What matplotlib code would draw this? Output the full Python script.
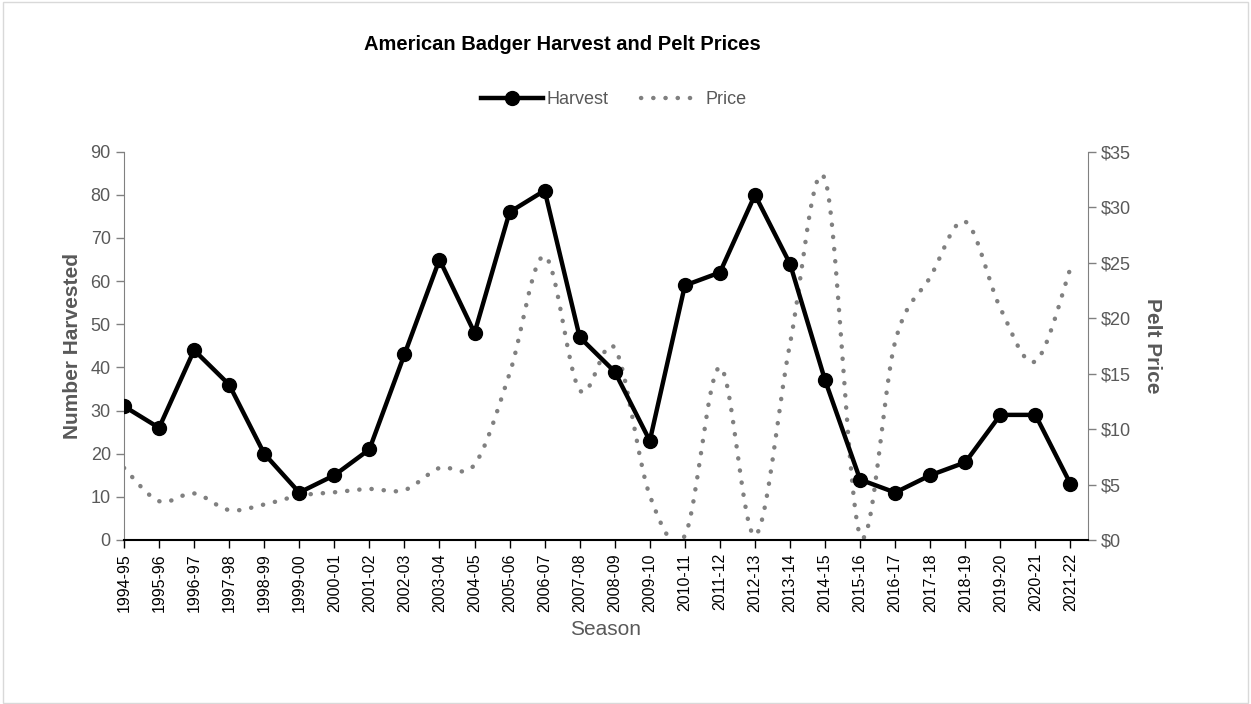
import numpy as np
import matplotlib as mpl
mpl.use('Agg')
import matplotlib.pyplot as plt
from matplotlib.ticker import FuncFormatter

seasons = ['1994-95', '1995-96', '1996-97', '1997-98', '1998-99', '1999-00', '2000-01',
           '2001-02', '2002-03', '2003-04', '2004-05', '2005-06', '2006-07', '2007-08',
           '2008-09', '2009-10', '2010-11', '2011-12', '2012-13', '2013-14', '2014-15',
           '2015-16', '2016-17', '2017-18', '2018-19', '2019-20', '2020-21', '2021-22']
harvest = [31, 26, 44, 36, 20, 11, 15, 21, 43, 65, 48, 76, 81, 47,
           39, 23, 59, 62, 80, 64, 37, 14, 11, 15, 18, 29, 29, 13]
price = [6.5, 3.5, 4.2, 2.7, 3.2, 4.0, 4.3, 4.6, 4.5, 6.5, 6.8, 15.0, 25.6, 13.5,
         17.3, 4.0, 0.4, 15.6, 0.4, 17.7, 32.5, 0.4, 17.9, 23.7, 28.7, 20.9, 16.1, 24.5]

GRAY = '#808080'
TXT = '#595959'


def smooth_curve(x, y, steps=20):
  # Excel style smoothed line (Catmull-Rom through every data point)
  x = np.asarray(x, float)
  y = np.asarray(y, float)
  px = np.concatenate([[x[0]], x, [x[-1]]])
  py = np.concatenate([[y[0]], y, [y[-1]]])
  out_x, out_y = [], []
  t = np.linspace(0, 1, steps, endpoint=False)
  for i in range(1, len(px) - 2):
    for arr, out in ((px, out_x), (py, out_y)):
      p0, p1, p2, p3 = arr[i - 1], arr[i], arr[i + 1], arr[i + 2]
      m1 = (p2 - p0) / 2.0
      m2 = (p3 - p1) / 2.0
      h00 = 2 * t ** 3 - 3 * t ** 2 + 1
      h10 = t ** 3 - 2 * t ** 2 + t
      h01 = -2 * t ** 3 + 3 * t ** 2
      h11 = t ** 3 - t ** 2
      out.extend(h00 * p1 + h10 * m1 + h01 * p2 + h11 * m2)
  out_x.append(x[-1])
  out_y.append(y[-1])
  return np.array(out_x), np.array(out_y)


plt.rcParams['font.family'] = ['Liberation Sans', 'DejaVu Sans']

fig = plt.figure(figsize=(12.51, 7.04), dpi=100)
fig.patches.append(mpl.patches.Rectangle((0.002, 0.002), 0.996, 0.995, transform=fig.transFigure,
                                         fill=False, edgecolor='#d9d9d9', linewidth=1))
ax = fig.add_axes([124 / 1251, 1 - 540 / 704, (1088 - 124) / 1251, (540 - 151.7) / 704])
ax2 = ax.twinx()

idx = np.arange(len(seasons))
sx, sy = smooth_curve(idx, price)
ax2.plot(sx, sy, color=GRAY, linewidth=3.2, linestyle=(0, (0.05, 2.7)), dash_capstyle='round',
         label='Price')
ax.plot(idx, harvest, color='black', linewidth=3.2, marker='o', markersize=10, label='Harvest',
        zorder=5)
ax.set_zorder(ax2.get_zorder() + 1)
ax.patch.set_visible(False)

ax.set_xlim(0, 27.5)
ax.set_ylim(0, 90)
ax2.set_ylim(0, 35)
ax.set_yticks(range(0, 91, 10))
ax2.set_yticks(range(0, 36, 5))
ax2.yaxis.set_major_formatter(FuncFormatter(lambda v, p: '$%d' % v))
ax.set_xticks(idx)
ax.set_xticklabels(seasons, rotation=90)

ax.spines['top'].set_visible(False)
ax2.spines['top'].set_visible(False)
ax.spines['right'].set_visible(False)
ax2.spines['left'].set_visible(False)
ax2.spines['bottom'].set_visible(False)
ax.spines['left'].set_color(GRAY)
ax2.spines['right'].set_color(GRAY)
ax.spines['bottom'].set_color('black')
ax.spines['bottom'].set_linewidth(1.5)

ax.tick_params(axis='y', colors=GRAY, labelcolor=TXT, labelsize=13, length=6, width=1)
ax2.tick_params(axis='y', colors=GRAY, labelcolor=TXT, labelsize=13, length=6, width=1)
ax.tick_params(axis='x', colors='black', labelcolor='black', labelsize=11.5, length=6, width=1)

ax.set_ylabel('Number Harvested', fontsize=15, fontweight='bold', color=TXT, labelpad=6)
ax2.set_ylabel('Pelt Price', fontsize=15, fontweight='bold', color=TXT, rotation=270, labelpad=22)
ax.set_xlabel('Season', fontsize=15, color=TXT, labelpad=6)

fig.text(562 / 1251, 1 - 44 / 704, 'American Badger Harvest and Pelt Prices', ha='center',
         va='center', fontsize=14.5, fontweight='bold', color='black')

h1, l1 = ax.get_legend_handles_labels()
h2, l2 = ax2.get_legend_handles_labels()
leg = fig.legend(h1 + h2, l1 + l2, loc='center', bbox_to_anchor=(614 / 1251, 1 - 100 / 704),
                 ncol=2, frameon=False, fontsize=13, handlelength=3.4, columnspacing=1.8,
                 handletextpad=0.2)
for t in leg.get_texts():
  t.set_color(TXT)

fig.savefig('out.png', dpi=100)
plt.close()
